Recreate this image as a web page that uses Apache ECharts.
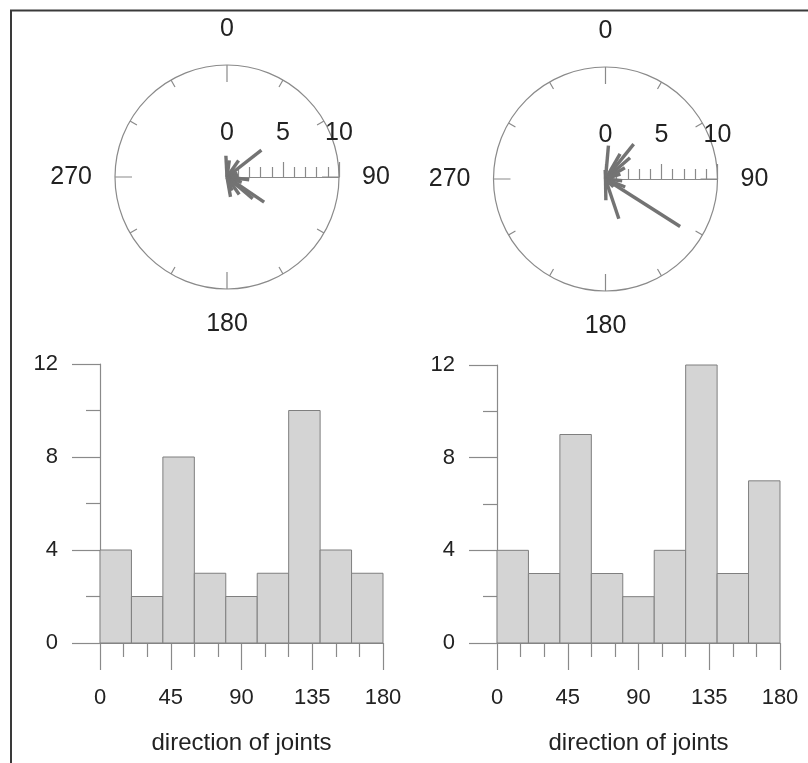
<!DOCTYPE html>
<html><head><meta charset="utf-8">
<script src="https://cdn.jsdelivr.net/npm/echarts@6/dist/echarts.min.js"></script>
<style>html,body{margin:0;padding:0;background:#fff}#c{width:808px;height:763px}</style>
</head><body><div id="c"></div>
<script>
// ---- data ----
const compassLabels = ['0', '90', '180', '270'];
const roseScaleLabels = ['0', '5', '10'];
// left rose petals (azimuth in degrees, length in scale units)
const leftPetalAngles  = [357, 8, 35, 52, 70, 85, 97, 110, 124, 130, 145, 160, 170];
const leftPetalLengths = [1.9, 1.5, 1.8, 3.9, 1.0, 1.0, 2.0, 1.4, 4.0, 3.0, 1.9, 1.3, 1.8];
// right rose petals
const rightPetalAngles  = [358, 5, 30, 39, 49, 60, 72, 96, 112, 122.5, 135, 161.5, 179];
const rightPetalLengths = [0.8, 3.0, 2.6, 4.0, 2.9, 2.0, 1.4, 1.5, 1.9, 7.9, 1.0, 3.75, 1.9];
// histograms (bins of 20 degrees)
const binStarts = [0, 20, 40, 60, 80, 100, 120, 140, 160];
const binWidth = 20;
const leftCounts  = [4, 2, 8, 3, 2, 3, 10, 4, 3];
const rightCounts = [4, 3, 9, 3, 2, 4, 12, 3, 7];
const xTickLabels = ['0', '45', '90', '135', '180'];
const yTickLabels = ['0', '4', '8', '12'];
const xAxisTitle = 'direction of joints';

// ---- styles ----
const FONT = 'Liberation Sans, Arial, sans-serif';
const TXT = '#222';
const AX = '#8a8a8a';
const FS = 22;
const FS_ROSE = 25;

const chart = echarts.init(document.getElementById('c'), null, {renderer: 'canvas'});

const roses = [
  {center: [227, 177], angles: leftPetalAngles, lengths: leftPetalLengths},
  {center: [605.5, 179], angles: rightPetalAngles, lengths: rightPetalLengths}
];
const hists = [
  {grid: {left: 100, top: 364, width: 283, height: 279}, counts: leftCounts},
  {grid: {left: 497, top: 365, width: 283, height: 278}, counts: rightCounts}
];

const polar = [], angleAxis = [], radiusAxis = [], series = [];
roses.forEach((r, i) => {
  const pMain = i * 2, pScale = i * 2 + 1;
  polar.push({center: r.center, radius: 112});
  polar.push({center: r.center, radius: 112});
  angleAxis.push({
    polarIndex: pMain, type: 'value', min: 0, max: 360, interval: 90,
    startAngle: 90, clockwise: true,
    axisLine: {lineStyle: {color: AX, width: 1.2}},
    axisTick: {show: true, inside: true, length: 17, lineStyle: {color: AX, width: 1.2}},
    minorTick: {show: true, splitNumber: 3, length: 8, lineStyle: {color: AX, width: 1.2}},
    splitLine: {show: false},
    axisLabel: {margin: 23, fontSize: FS_ROSE, color: TXT, fontFamily: FONT,
      formatter: v => { const k = Math.round(v / 90); return k < 4 ? compassLabels[k] : ''; }}
  });
  radiusAxis.push({polarIndex: pMain, type: 'value', min: 0, max: 10, show: false});
  angleAxis.push({polarIndex: pScale, type: 'value', min: 0, max: 360, startAngle: 0, show: false});
  radiusAxis.push({
    polarIndex: pScale, type: 'value', min: 0, max: 10, interval: 5,
    axisLine: {show: true, lineStyle: {color: AX, width: 1.2}},
    axisTick: {show: true, length: 15, lineStyle: {color: AX, width: 1.2}},
    minorTick: {show: true, splitNumber: 5, length: 10, lineStyle: {color: AX, width: 1.2}},
    splitLine: {show: false},
    axisLabel: {margin: 31, fontSize: FS_ROSE, color: TXT, fontFamily: FONT,
      formatter: v => roseScaleLabels[Math.round(v / 5)]}
  });
  series.push({
    type: 'custom', coordinateSystem: 'polar', polarIndex: pMain,
    data: r.angles.map((a, k) => [r.lengths[k], a]),
    encode: {radius: 0, angle: 1},
    renderItem: (params, api) => {
      const len = api.value(0), ang = api.value(1);
      const p0 = api.coord([0, ang]), p1 = api.coord([len, ang]);
      return {type: 'line', shape: {x1: p0[0], y1: p0[1], x2: p1[0], y2: p1[1]},
        style: {stroke: '#737373', lineWidth: 3.4, lineCap: 'butt'}};
    },
    silent: true, z: 5
  });
});

const grid = [], xAxis = [], yAxis = [];
hists.forEach((h, i) => {
  grid.push(h.grid);
  xAxis.push({
    gridIndex: i, type: 'value', min: 0, max: 180, interval: 45,
    name: xAxisTitle, nameLocation: 'middle', nameGap: 88,
    nameTextStyle: {fontSize: 24, color: TXT, fontFamily: FONT},
    axisLine: {lineStyle: {color: AX, width: 1.2}},
    axisTick: {length: 27, lineStyle: {color: AX, width: 1.2}},
    minorTick: {show: true, splitNumber: 3, length: 14, lineStyle: {color: AX, width: 1.2}},
    splitLine: {show: false},
    axisLabel: {margin: 44, fontSize: FS, color: TXT, fontFamily: FONT,
      formatter: v => xTickLabels[Math.round(v / 45)]}
  });
  yAxis.push({
    gridIndex: i, type: 'value', min: 0, max: 12, interval: 4,
    axisLine: {show: true, lineStyle: {color: AX, width: 1.2}},
    axisTick: {show: true, length: 28, lineStyle: {color: AX, width: 1.2}},
    minorTick: {show: true, splitNumber: 2, length: 14, lineStyle: {color: AX, width: 1.2}},
    splitLine: {show: false},
    axisLabel: {margin: 42, fontSize: FS, color: TXT, fontFamily: FONT,
      formatter: v => yTickLabels[Math.round(v / 4)]}
  });
  series.push({
    type: 'custom', xAxisIndex: i, yAxisIndex: i,
    data: binStarts.map((b, k) => [b, b + binWidth, h.counts[k]]),
    encode: {x: [0, 1], y: 2},
    renderItem: (params, api) => {
      const p0 = api.coord([api.value(0), api.value(2)]);
      const p1 = api.coord([api.value(1), 0]);
      return {type: 'rect', shape: {x: p0[0], y: p0[1], width: p1[0] - p0[0], height: p1[1] - p0[1]},
        style: {fill: '#d4d4d4', stroke: '#7f7f7f', lineWidth: 1}};
    },
    silent: true, z: 1
  });
});

chart.setOption({
  animation: false,
  backgroundColor: '#fff',
  textStyle: {fontFamily: FONT},
  graphic: [{type: 'polyline', shape: {points: [[11, 763], [11, 10.5], [808, 10.5]]},
    style: {stroke: '#3a3a3a', lineWidth: 2, fill: null}, silent: true}],
  polar, angleAxis, radiusAxis, grid, xAxis, yAxis, series
});
</script></body></html>
